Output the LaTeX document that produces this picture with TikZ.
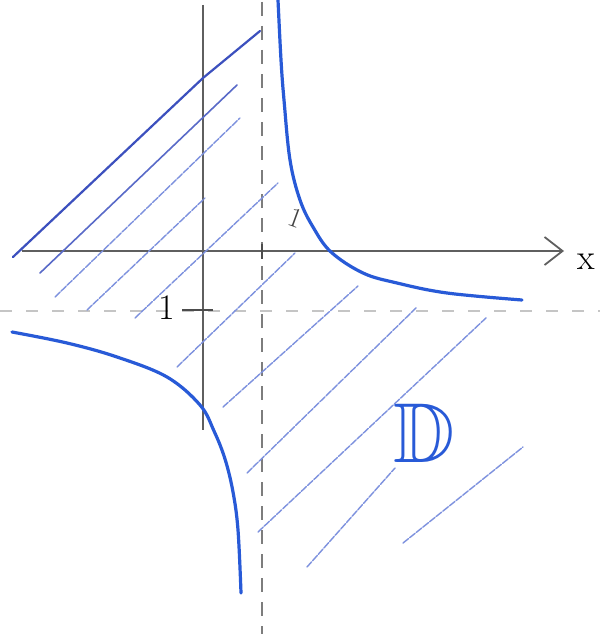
\documentclass[tikz,border=0pt]{standalone}
\usepackage{fontspec}
\usepackage{amssymb}
\usetikzlibrary{arrows.meta}
\definecolor{curveblue}{RGB}{40,90,215}
\definecolor{lineblue}{RGB}{60,80,190}
\definecolor{hatchblue}{RGB}{125,145,222}
\definecolor{axisgray}{RGB}{95,95,95}
\definecolor{dashgray}{RGB}{125,125,125}
\begin{document}
\begin{tikzpicture}[x=1pt,y=-1pt,
  axis/.style={draw=axisgray,line width=1.8pt},
  asym/.style={draw=dashgray,line width=1.6pt,dash pattern=on 14pt off 10pt},
  asymlight/.style={draw=dashgray!45,line width=1.4pt,dash pattern=on 12pt off 14pt},
  branch/.style={draw=curveblue,line width=3.2pt,line cap=round,line join=round},
  bound/.style={draw=lineblue,line width=2.2pt,line cap=round,line join=round},
  hatchdark/.style={draw=lineblue!85,line width=1.6pt,line cap=round},
  hatch/.style={draw=hatchblue,line width=1.4pt,line cap=round,dash pattern=on 7pt off 1.5pt},
  lbl/.style={text=black,font=\fontsize{36}{38}\selectfont,inner sep=0pt},
  tick/.style={draw=axisgray!80!black,line width=2.4pt},
]
\useasboundingbox[fill=white] (0,0) rectangle (600,634);

% asymptotes
\coordinate (vt) at (262,2);
\coordinate (vb) at (262,634);
\coordinate (hl) at (0,311);
\coordinate (hr) at (600,311);
\draw[asym] (vt) -- (vb);
\draw[asymlight] (hl) -- (hr);

% axes
\coordinate (xs) at (22,251);
\coordinate (xe) at (564,251);
\coordinate (yt) at (203,5);
\coordinate (yb) at (203,430);
\draw[axis,-{Straight Barb[length=18pt,width=28pt,line width=1.8pt]}] (xs) -- (xe);
\draw[axis] (yt) -- (yb);
\node[lbl] (xlab) at (586,262) {x};

% ticks
\coordinate (t1a) at (262,244);
\coordinate (t1b) at (262,259);
\draw[tick] (t1a) -- (t1b);
\coordinate (t2a) at (182,310);
\coordinate (t2b) at (213,310);
\draw[tick,line width=2pt] (t2a) -- (t2b);
\node[lbl] (mone) at (167,308) {1};
\node[text=axisgray!70!black,font=\fontsize{28}{30}\selectfont,inner sep=0pt,rotate=-20] (one) at (296,218) {1};

% hatching
\draw[hatchdark] (40,273) -- (237,85);
\draw[hatch] (55,297) -- (240,118);
\draw[hatch] (87,310) -- (205,198);
\draw[hatch] (135,318) -- (278,183);
\draw[hatch] (177,367) -- (295,253);
\draw[hatch] (223,407) -- (358,286);
\draw[hatch] (247,473) -- (417,307);
\draw[hatch] (258,532) -- (487,317);
\draw[hatch] (307,567) -- (395,468);
\draw[hatch] (403,543) -- (523,447);

% boundary line
\draw[bound] (13,257) -- (203,78) -- (260,31);

% hyperbola branches
\draw[branch] plot[smooth,tension=0.6] coordinates {(278,0) (281,60) (284,100) (290,160) (300,200) (313,227) (331,252) (363,273) (397,283) (447,293) (522,300)};
\draw[branch] plot[smooth,tension=0.6] coordinates {(12,332) (67,343) (117,357) (167,377) (200,405) (214,431) (225,459) (233,492) (238,530) (241,593)};

% region label
\node[text=curveblue,font=\fontsize{10}{12}\selectfont,scale=8.5,inner sep=0pt] (D) at (424,433) {$\mathbb{D}$};
\end{tikzpicture}
\end{document}
